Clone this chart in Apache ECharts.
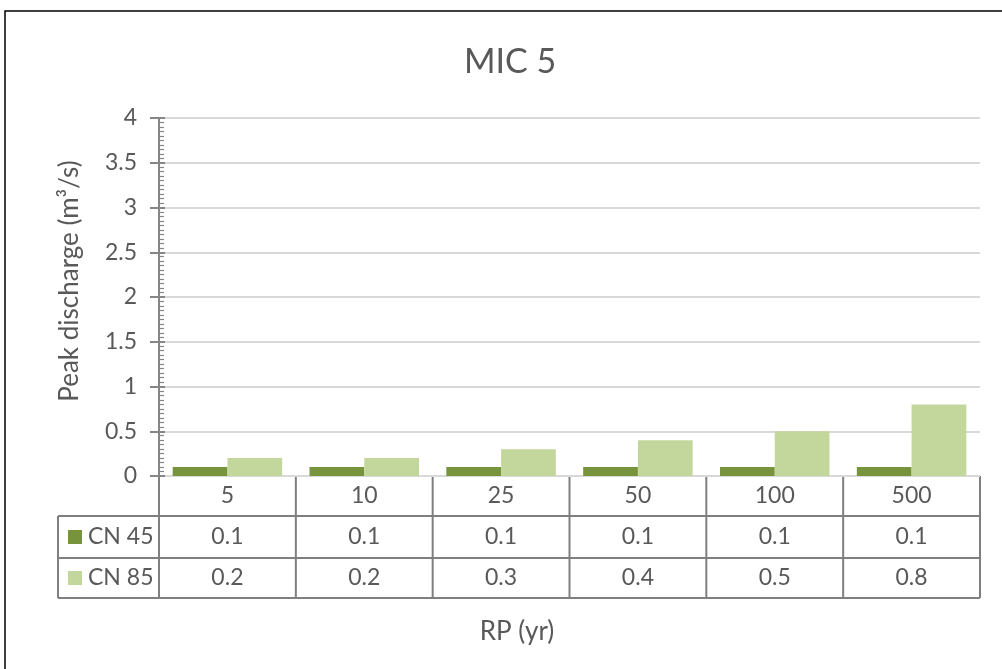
<!DOCTYPE html>
<html><head><meta charset="utf-8">
<script src="https://cdn.jsdelivr.net/npm/echarts@6/dist/echarts.min.js"></script>
<style>html,body{margin:0;padding:0;background:#fff}#c{width:1002px;height:669px}</style>
</head><body><div id="c"></div>
<script>
const categories = ['5','10','25','50','100','500'];
const seriesNames = ['CN 45','CN 85'];
const cn45 = [0.1,0.1,0.1,0.1,0.1,0.1];
const cn85 = [0.2,0.2,0.3,0.4,0.5,0.8];
const colors = ['#77933C','#C3D69B'];

const FONT = 'Lato';
const TXT = '#595959';
const G = {left:159, right:22, top:118, bottom:193};
const W = 1002, H = 669;
const gw = W - G.left - G.right;
const y0 = H - G.bottom;
const rowH = [40, 42, 40];
const tableLeft = 58;
const lineC = '#7F7F7F';
const FS = 23;

const graphics = [];
graphics.push({type:'rect', shape:{x:5,y:11,width:1010,height:680}, style:{fill:'none',stroke:'#000',lineWidth:1.5}, silent:true});
const bw = gw / categories.length;
const rowsTop = [y0, y0+rowH[0], y0+rowH[0]+rowH[1]];
const tableBottom = y0 + rowH[0]+rowH[1]+rowH[2];
graphics.push({type:'line', shape:{x1:G.left,y1:y0,x2:W-G.right,y2:y0}, style:{stroke:lineC,lineWidth:2}});
graphics.push({type:'line', shape:{x1:tableLeft,y1:rowsTop[1],x2:W-G.right,y2:rowsTop[1]}, style:{stroke:lineC,lineWidth:2}});
graphics.push({type:'line', shape:{x1:tableLeft,y1:rowsTop[2],x2:W-G.right,y2:rowsTop[2]}, style:{stroke:lineC,lineWidth:2}});
graphics.push({type:'line', shape:{x1:tableLeft,y1:tableBottom,x2:W-G.right,y2:tableBottom}, style:{stroke:lineC,lineWidth:2}});
graphics.push({type:'line', shape:{x1:tableLeft,y1:rowsTop[1],x2:tableLeft,y2:tableBottom}, style:{stroke:lineC,lineWidth:2}});
for (let i=0;i<=categories.length;i++){
  const x = G.left + i*bw;
  graphics.push({type:'line', shape:{x1:x,y1:y0,x2:x,y2:tableBottom}, style:{stroke:lineC,lineWidth:2}});
}
const rowsData = [categories, cn45.map(v=>v.toFixed(1)), cn85.map(v=>v.toFixed(1))];
for (let r=0;r<3;r++){
  for (let i=0;i<categories.length;i++){
    graphics.push({type:'text', x:G.left + (i+0.5)*bw, y:rowsTop[r]+rowH[r]/2,
      style:{text:rowsData[r][i], fill:TXT, font:FS+'px '+FONT, textAlign:'center', textVerticalAlign:'middle'}});
  }
}
for (let s=0;s<2;s++){
  const cy = rowsTop[s+1]+rowH[s+1]/2;
  graphics.push({type:'rect', shape:{x:68,y:cy-7,width:14,height:14}, style:{fill:colors[s]}});
  graphics.push({type:'text', x:88, y:cy, style:{text:seriesNames[s], fill:TXT, font:FS+'px '+FONT, textAlign:'left', textVerticalAlign:'middle'}});
}
graphics.push({type:'text', x:(tableLeft+W-G.right)/2 - 2, y:632, style:{text:'RP (yr)', fill:TXT, font:'26px '+FONT, textAlign:'center', textVerticalAlign:'middle'}});
graphics.push({type:'text', x:70, y:281, rotation:Math.PI/2, style:{text:'Peak discharge (m³/s)', fill:TXT, font:'26px '+FONT, textAlign:'center', textVerticalAlign:'middle'}});

const chart = echarts.init(document.getElementById('c'));
chart.setOption({
  backgroundColor:'#fff',
  animation:false,
  title:{text:'MIC 5', left:505, textAlign:'center', top:40, textStyle:{fontFamily:FONT, fontSize:34, fontWeight:'normal', color:TXT}},
  grid:G,
  xAxis:{type:'category', data:categories, axisLine:{show:false}, axisTick:{show:false}, axisLabel:{show:false}},
  yAxis:[{type:'value', min:0, max:4, interval:0.5,
    axisLine:{show:true, lineStyle:{color:'#868686', width:2}},
    axisTick:{show:true, length:9, lineStyle:{color:'#868686', width:2}},
    axisLabel:{color:TXT, fontFamily:FONT, fontSize:FS, margin:22},
    splitLine:{lineStyle:{color:'#D9D9D9', width:2}}},
   {type:'value', min:0, max:4, interval:0.5, position:'left',
    axisLine:{show:false}, axisLabel:{show:false}, splitLine:{show:false},
    axisTick:{show:true, inside:true, length:6, lineStyle:{color:'#868686', width:2}},
    minorTick:{show:true, splitNumber:10, length:5, lineStyle:{color:'#868686', width:1.2}}}],
  series:[
    {name:seriesNames[0], type:'bar', data:cn45, itemStyle:{color:colors[0]}, barGap:'0%', barCategoryGap:'20%'},
    {name:seriesNames[1], type:'bar', data:cn85, itemStyle:{color:colors[1]}, barGap:'0%', barCategoryGap:'20%'}
  ],
  graphic:graphics
});
</script></body></html>
